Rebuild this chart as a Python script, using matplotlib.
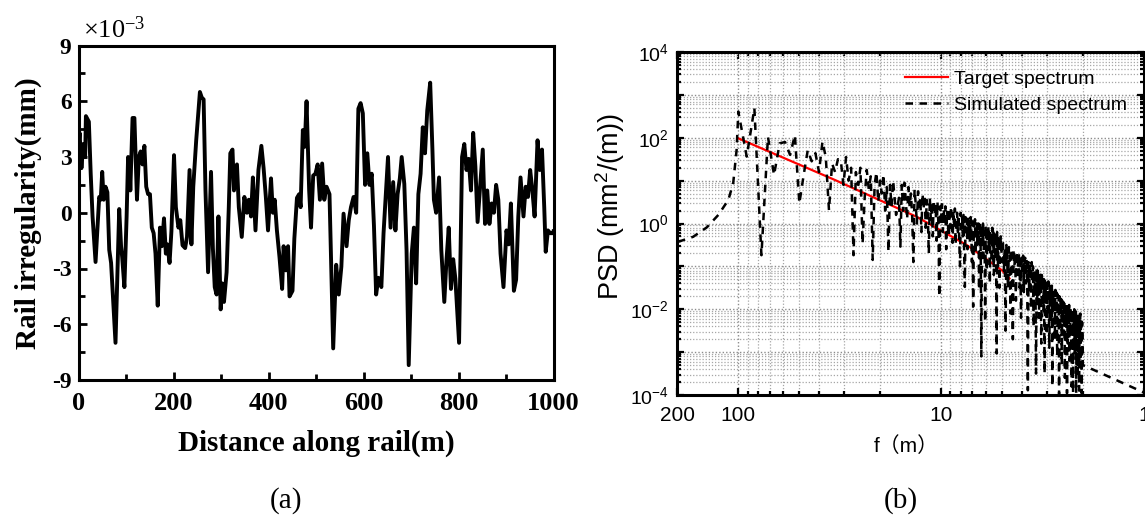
import numpy as np
import matplotlib
matplotlib.use("Agg")
import matplotlib.pyplot as plt
from matplotlib.ticker import FixedLocator, FixedFormatter, NullFormatter

plt.rcParams["axes.unicode_minus"] = False

# ---------------- data: (a) rail irregularity ----------------
distance_m = [0, 2.3, 6.2, 10.1, 14, 15.6, 21.8, 25.7, 29.6, 35.9, 43.6, 46.8, 49.9, 53, 56.9, 60.8,
              64.7, 68.6, 77.9, 85.7, 89.6, 92, 96.6, 101.3, 104.4, 107.6, 109.1, 113.8, 117.7, 123.1,
              127, 130.9, 134.8, 138.7, 142.6, 146.5, 150.4, 154.3, 158.2, 162.1, 166.8, 171.5, 175.4,
              180, 183.9, 187, 191.7, 195.6, 201.1, 205, 210.4, 214.3, 219, 224.5, 228.4, 233.8, 237.7,
              241.6, 247.8, 255.6, 259.5, 263.4, 267.3, 272.8, 279, 282.9, 286.8, 290.7, 294.6, 299.3,
              302.4, 306.3, 311.8, 316.4, 319.6, 324.2, 327.3, 333.6, 337.5, 343.7, 349.2, 354.6, 358.5,
              363.2, 367.1, 372.6, 378.8, 385, 389.7, 394.4, 399, 405.3, 409.2, 413.1, 417.7, 423.2,
              428.7, 431.8, 436.5, 441.2, 444.3, 450.5, 454.4, 459.9, 464.5, 467.6, 472.3, 476.2, 480.1,
              485.6, 489.5, 494.1, 498.8, 503.5, 508.2, 512.9, 517.5, 522.2, 528.4, 536.2, 542.5, 547.9,
              553.4, 558, 564.3, 569, 573.6, 579.1, 584.6, 589.2, 593.9, 598.6, 603.3, 608, 612.6, 617.3,
              622, 626.6, 631.3, 637.6, 642.2, 646.9, 651.6, 657, 662.5, 667.2, 671.8, 676.5, 680.4,
              685.9, 690.6, 695.2, 701.5, 706.1, 710.8, 715.5, 720.2, 724.8, 729.5, 734.2, 737.3, 740.4,
              745.1, 748.2, 752.9, 759.1, 763.8, 770.1, 774.7, 779.4, 784.1, 788.8, 793.4, 801.2, 807.5,
              812.2, 816.8, 821.5, 826.2, 830.9, 835.5, 840.2, 846.4, 851.1, 855.8, 860.5, 865.1, 869.8,
              874.5, 879.2, 883.8, 888.5, 894.7, 901, 905.7, 910.3, 916.6, 921.3, 925.9, 930.6, 936.8,
              941.5, 946.2, 950.9, 955.5, 960.2, 966.4, 971.1, 975.8, 980.5, 983.6, 988.3, 992.9, 999.2,
              1000]
irregularity_e3 = [3.6, 4.3, 2.4, 3.7, 3.0, 5.2, 4.9, 2.1, -0.2, -2.65, 0.85, 0.7, 2.2, 0.7, 1.4, 1.1,
                   -2.0, -2.7, -7.0, 0.2, -1.8, -2.4, -4.0, -0.2, 3.0, 2.5, 1.2, 5.1, 5.1, 0.7,
                   3.0, 3.3, 2.6, 3.6, 1.4, 1.0, 1.0, -0.8, -1.1, -2.2, -5.0, -0.8, -1.8,
                   -0.3, -2.2, -1.7, -2.7, -1.0, 3.1, 0.3, -0.8, -0.4, -1.75, -1.9, -1.3, 2.3, -1.7,
                   1.4, 3.9, 6.5, 6.2, 6.1, 1.2, -3.2, 2.2, -1.9, -4.0, -4.4, -0.2, -5.2,
                   -3.8, -4.8, -3.2, 0.3, 3.2, 3.4, 1.2, 2.6, 0.3, -1.3, 0.85, 0, 0.7,
                   -0.2, 1.9, -0.95, 2.3, 3.6, 2.4, 0.85, -0.95, 1.85, 0, 0.7, -0.95, -2.4,
                   -4.1, -1.8, -3.1, -1.8, -4.5, -4.2, -1.4, 0.8, 1.0, 0.3, 4.45, 3.55, 6.0,
                   1.2, -0.8, 2.0, 2.1, 2.6, 0.7, 2.65, 0.7, 1.4, 1.0, -7.3, -2.8, -4.4,
                   -2.9, -0.05, -1.8, -0.4, 0.3, 0.85, 0, 5.6, 5.9, 5.35, 1.5, 3.2, 1.5, 2.1,
                   -0.7, -4.4, -3.5, -4.0, -1.1, 1.0, 3.0, -0.8, 1.65, -0.95, 1.0, 1.85, 3.0,
                   1.55, -2.0, -8.2, -2.2, -0.8, -3.8, 1.0, 2.1, 4.6, 3.2, 5.5, 6.25, 7.0,
                   3.4, 0.7, 0, 1.9, -2.0, -4.8, -2.55, -0.8, -4.1, -2.5, -3.55, -7.0, 3.0,
                   3.7, 2.3, 2.9, 1.2, 4.3, 2.5, -0.5, 1.75, 3.4, -0.6, 1.2, -0.6, 0.5,
                   0, 1.5, 0.7, -2.2, -4.0, -0.95, -1.7, 0.5, -4.2, -3.6, -0.2, 1.9, -0.2,
                   1.4, 0.85, 2.3, 1.2, -0.2, 3.9, 2.3, 3.4, 0.3, -2.1, -0.95, -1.1, -1.1,
                   -1.0]
assert len(distance_m) == len(irregularity_e3), (len(distance_m), len(irregularity_e3))

# ---------------- data: (b) PSD ----------------
# target spectrum (wavelength m, log10 PSD)
target_wavelength = [100, 33.3, 13.2, 7.46, 5.02, 4.6]
target_log_psd = [1.986, 1.013, 0.157, -0.504, -1.088, -1.28]

# simulated spectrum: low-frequency tail (wavelength m, log10 PSD)
sim_tail_low_wavelength = [230, 199, 167, 143, 125.5, 112, 106, 102]
sim_tail_low_log_psd = [-0.55, -0.43, -0.31, -0.09, 0.2, 0.55, 0.94, 1.71]

# simulated spectrum on the record's spatial-frequency index k (wavelength = 1000/k m)
sim_k = np.concatenate([np.arange(10, 61, 1), np.arange(62, 201, 1), np.arange(202, 501, 2)])
sim_log_psd = [
    # k = 10..60
    2.61, 1.56, 2.69, -0.74, 2.02, 1.13, 1.87, 1.90, 1.60, 2.06,
    0.47, 1.13, 1.71, 1.45, 1.64, 1.20, 1.91, 1.55, 0.31, 1.40,
    1.20, 1.50, 1.48, 0.90, 1.55, 1.00, 1.30, -0.74, 1.20, 0.90,
    1.30, -0.47, 0.60, 1.25, 0.80, 1.10, -0.85, 0.90, 1.20, 0.50,
    1.00, 0.70, 1.15, 0.30, 0.85, -0.66, 0.90, 0.40, 1.00, 0.60,
    0.20,
    # k = 62..200
    0.6, -0.54, 0.9, 0.3, 0.95, 0.5, 0.1, 0.85, 0.4, 0.7,
    0.2, -0.9, 0.8, 0.45, 0.0, 0.75, 0.3, 0.6, -0.2, 0.7,
    0.35, 0.65, -0.1, 0.55, 0.2, -0.7, 0.6, 0.1, 0.5, -0.3,
    0.55, 0.2, 0.45, -0.4, 0.5, 0.0, -1.71, 0.4, 0.1, 0.45,
    -0.2, 0.35, 0.0, 0.4, -0.6, 0.3, 0.05, -0.3, 0.35, -0.1,
    0.4, 0.0, -0.45, 0.3, -0.1, 0.35, -0.5, 0.1, 0.25, -0.2,
    0.2, -0.4, -1.0, 0.25, -0.1, 0.15, -0.3, 0.2, -0.6, -1.48,
    0.15, -0.2, 0.1, -0.6, 0.15, -0.3, 0.05, -0.4, 0.15, -0.2,
    -0.9, 0.05, -1.94, 0.0, -0.3, 0.1, -0.7, -0.1, 0.0, -0.5,
    -0.2, 0.0, -1.55, -0.3, 0.0, -0.8, -3.1, -0.1, -0.5, 0.0,
    -0.8, -0.2, -0.4, -2.3, -0.05, -0.6, -1.1, -0.1, -0.4, -0.05,
    -0.6, -0.3, -1.4, -0.15, -0.5, -0.2, -0.9, -0.1, -0.6, -0.2,
    -1.2, -0.3, -0.25, -0.7, -0.4, -1.0, -3.03, -0.2, -0.6, -1.0,
    -0.3, -0.8, -1.5, -0.35, -0.6, -0.3, -0.9, -0.5, -0.4,
    # k = 202..500 step 2
    -0.45, -1.1, -0.6, -2.5, -0.5, -0.9, -1.5, -0.55, -0.8, -2.1,
    -0.6, -1.3, -2.7, -0.6, -1.0, -0.7, -1.8, -0.65, -1.2, -0.9,
    -0.7, -1.5, -0.75, -2.2, -0.8, -1.1, -0.75, -1.6, -0.9, -0.8,
    -1.4, -0.85, -1.2, -3.89, -0.9, -1.6, -0.95, -1.1, -2.0, -0.9,
    -1.3, -1.0, -2.4, -1.05, -1.5, -1.2, -3.5, -1.05, -1.8, -1.1,
    -1.3, -2.2, -1.15, -1.6, -1.2, -2.8, -1.2, -1.5, -1.25, -2.0,
    -1.3, -3.5, -1.35, -1.7, -1.3, -2.6, -1.4, -2.0, -1.35, -1.6,
    -2.9, -1.45, -1.8, -1.5, -2.3, -1.45, -3.8, -1.55, -2.0, -1.6,
    -1.7, -2.7, -1.55, -2.1, -1.6, -1.9, -3.1, -1.65, -2.3, -1.7,
    -4.0, -1.7, -2.5, -1.75, -2.0, -1.7, -3.3, -1.8, -2.2, -1.75,
    -1.85, -2.6, -1.8, -3.6, -1.9, -2.4, -1.85, -2.1, -3.96, -1.9,
    -2.8, -1.95, -2.3, -1.9, -3.2, -2.0, -2.6, -1.95, -2.2, -3.8,
    -2.0, -2.5, -2.05, -3.96, -2.1, -2.4, -2.0, -3.0, -2.1, -2.7,
    -2.05, -3.96, -2.15, -2.5, -2.1, -3.5, -2.2, -2.4, -2.1, -3.9,
    -2.15, -2.6, -2.1, -3.2, -2.2, -2.5, -3.96, -2.3, -2.6, -3.3,
]
assert len(sim_k) == len(sim_log_psd), (len(sim_k), len(sim_log_psd))

# simulated spectrum: high-frequency tail
sim_tail_high_wavelength = [1.0, 0.9]
sim_tail_high_log_psd = [-3.94, -4.04]

record_length_m = 1000.0

# ---------------- figure ----------------
W, H = 1145, 519
fig = plt.figure(figsize=(W / 100, H / 100), dpi=100)
serif = "Liberation Serif"
sans = "Liberation Sans"

# (a)
ax1 = fig.add_axes([78.5 / W, 1 - 380 / H, 475 / W, 334.5 / H])
ax1.plot(distance_m, irregularity_e3, color="black", lw=2.8, solid_joinstyle="round")
ax1.set_xlim(0, 1000)
ax1.set_ylim(-9, 9)
ax1.set_xticks([0, 200, 400, 600, 800, 1000])
ax1.set_xticks([100, 300, 500, 700, 900], minor=True)
ax1.set_yticks([-9, -6, -3, 0, 3, 6, 9])
ax1.set_yticks([-7.5, -4.5, -1.5, 1.5, 4.5, 7.5], minor=True)
ax1.tick_params(which="both", direction="in", width=2, top=False, right=False)
ax1.tick_params(which="major", length=6)
ax1.tick_params(which="minor", length=4)
ax1.tick_params(axis="x", pad=9, labelsize=19)
ax1.tick_params(axis="y", pad=5, labelsize=17)
for lab in ax1.get_xticklabels() + ax1.get_yticklabels():
    lab.set_fontfamily(serif)
    lab.set_fontweight("bold")
for sp in ax1.spines.values():
    sp.set_linewidth(2.2)
ax1.set_xlabel("Distance along rail(m)", fontsize=21, fontweight="bold", family=serif, va="center")
ax1.xaxis.set_label_coords(0.5, -0.188)
ax1.set_ylabel("Rail irregularity(mm)", fontsize=21, fontweight="bold", family=serif, va="center")
ax1.yaxis.set_label_coords(-0.105, 0.5)
fig.text(83 / W, 1 - 38 / H, r"$\mathregular{\times10^{-3}}$", fontsize=19, family=serif,
         ha="left", va="baseline")

# (b)
ax2 = fig.add_axes([677.3 / W, 1 - 395 / H, 466.5 / W, 343 / H])
ax2.set_xscale("log")
ax2.set_yscale("log")

target_psd = 10 ** np.array(target_log_psd)
sim_wavelength = np.concatenate([sim_tail_low_wavelength, record_length_m / sim_k, sim_tail_high_wavelength])
sim_psd = 10 ** np.concatenate([sim_tail_low_log_psd, sim_log_psd, sim_tail_high_log_psd])

ax2.plot(target_wavelength, target_psd, color="red", lw=1.6, label="Target spectrum", zorder=3)
ax2.plot(sim_wavelength, sim_psd, color="black", lw=1.8, ls=(0, (3.0, 2.6)),
         label="Simulated spectrum", zorder=4)

ax2.set_xlim(200, 1)
ax2.set_ylim(1e-4, 1e4)
ax2.xaxis.set_major_locator(FixedLocator([200, 100, 10, 1]))
ax2.xaxis.set_major_formatter(FixedFormatter(["200", "100", "10", "1"]))
xminor = [m * 10.0 ** e for e in range(0, 3) for m in range(2, 10) if m * 10.0 ** e <= 200]
ax2.xaxis.set_minor_locator(FixedLocator(xminor))
ax2.xaxis.set_minor_formatter(NullFormatter())
yexp = list(range(-4, 5))
ax2.yaxis.set_major_locator(FixedLocator([10.0 ** e for e in yexp]))
ax2.yaxis.set_major_formatter(FixedFormatter(
    [r"$\mathregular{10^{%d}}$" % e if e % 2 == 0 else "" for e in yexp]))
yminor = [m * 10.0 ** e for e in range(-4, 4) for m in range(2, 10)]
ax2.yaxis.set_minor_locator(FixedLocator(yminor))
ax2.yaxis.set_minor_formatter(NullFormatter())

ax2.grid(True, which="major", ls=(0, (1, 1.5)), color="#8c8c8c", lw=1.0)
ax2.grid(True, which="minor", ls=(0, (1, 1.5)), color="#a6a6a6", lw=0.9)
ax2.set_axisbelow(True)
ax2.tick_params(which="both", direction="in", top=True, right=True, width=1.6)
ax2.tick_params(which="major", length=5)
ax2.tick_params(which="minor", length=3)
ax2.tick_params(axis="x", pad=8, labelsize=15)
ax2.tick_params(axis="y", pad=6, labelsize=14)
for lab in ax2.get_xticklabels() + ax2.get_yticklabels():
    lab.set_fontfamily(sans)
for sp in ax2.spines.values():
    sp.set_linewidth(2.2)
ax2.set_ylabel(r"PSD (mm$\mathregular{^2}$/(m))", fontsize=19.5, family=sans, va="center")
ax2.yaxis.set_label_coords(-0.143, 0.55)
ax2.set_xlabel("f（m）", fontsize=15, family=[sans, "Noto Sans CJK SC"], va="center")
ax2.xaxis.set_label_coords(0.49, -0.149)

leg = ax2.legend(loc="upper left", bbox_to_anchor=(0.488, 0.947), frameon=False,
                 handlelength=2.2, handletextpad=0.3, labelspacing=0.42,
                 borderpad=0, borderaxespad=0, prop={"family": sans, "size": 14})

fig.text(286 / W, 1 - 501 / H, "(a)", fontsize=21, family=serif, ha="center", va="center")
fig.text(901 / W, 1 - 501 / H, "(b)", fontsize=21, family=serif, ha="center", va="center")

fig.savefig("out.png", dpi=100)
